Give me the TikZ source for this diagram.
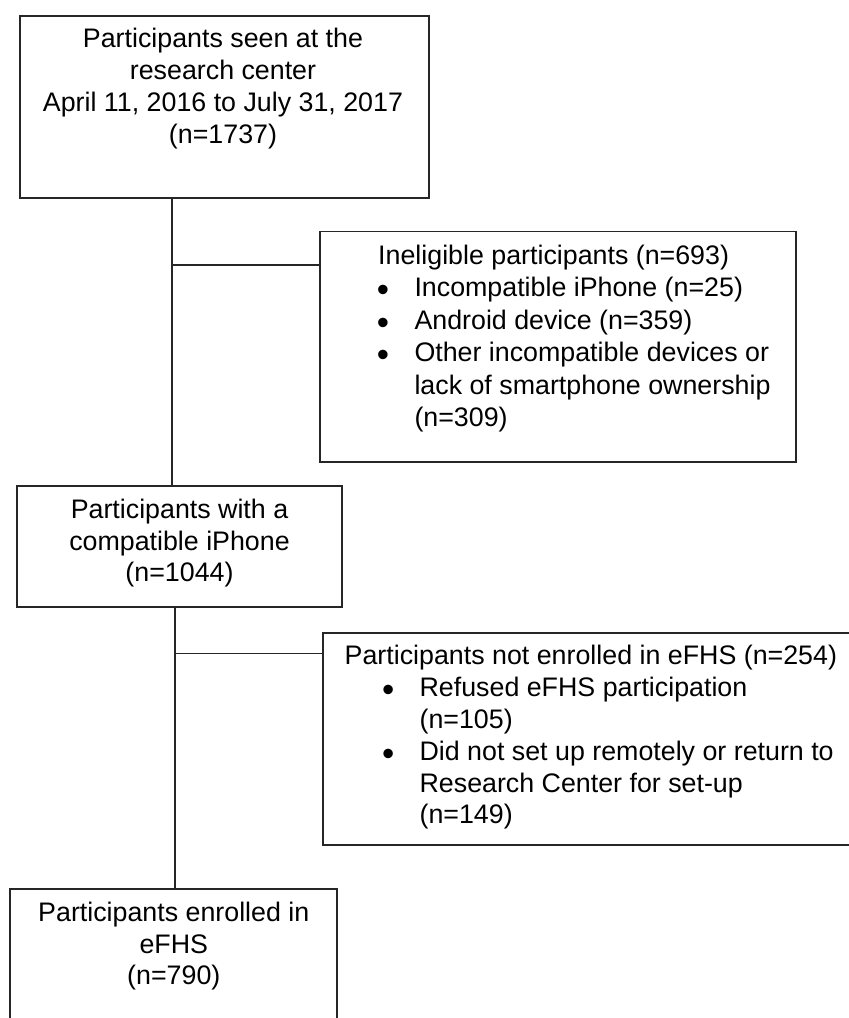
\documentclass[tikz,border=0pt]{standalone}
\usepackage{fontspec}
\setmainfont{Liberation Sans}
\newcommand\bltbox[1]{\makebox[#1][l]{\hspace*{-0.4pt}\smash{\raisebox{-4.9pt}{\scalebox{1.3}{\textbullet}}}}}
\begin{document}
\begin{tikzpicture}[x=1pt,y=-1pt,
  box/.style={draw=black!85, line width=1.9pt, rectangle, inner sep=0pt, outer sep=0pt, anchor=north west},
  conn/.style={draw=black!85, line width=1.7pt},
  ctxt/.style={inner sep=0pt, outer sep=0pt, align=center, anchor=north, text=black,
    font=\fontsize{26.8}{31.8}\selectfont},
  ltxt/.style={inner sep=0pt, outer sep=0pt, align=left, anchor=north west, text=black,
    font=\fontsize{26.8}{#1}\selectfont},
]
\useasboundingbox (0,0) rectangle (849,1018);
\clip (0,0) rectangle (849,1018);

% boxes
\node[box, minimum width=408.4pt, minimum height=182pt] (b1) at (20.3,15.7) {};
\node[box, minimum width=475.7pt, minimum height=230.5pt] (b2) at (320,231.5) {};
\node[box, minimum width=325.3pt, minimum height=121.3pt] (b3) at (17,486) {};
\node[box, minimum width=546.7pt, minimum height=212.3pt] (b4) at (323.3,632.7) {};
\node[box, minimum width=327pt, minimum height=151.3pt] (b5) at (10.3,888.7) {};

% texts
\node[ctxt] (t1) at (223,25.7) {\strut Participants seen at the\\\strut research center\\\strut April 11, 2016 to July 31, 2017\\\strut (n=1737)};
\node[ctxt] (t3) at (179.5,496.0) {\strut Participants with a\\\strut compatible iPhone\\\strut (n=1044)};
\node[ctxt] (t5) at (173.8,899.0) {\strut Participants enrolled in\\\strut eFHS\\\strut (n=790)};

\node[ltxt=32.5] (t2) at (377.3,241.5) {\strut\hspace*{0.9pt}Ineligible participants (n=693)\\
\strut\bltbox{37.2pt}Incompatible iPhone (n=25)\\
\strut\bltbox{37.2pt}Android device (n=359)\\
\strut\bltbox{37.2pt}Other incompatible devices or\\
\strut\hspace*{37.2pt}lack of smartphone ownership\\
\strut\hspace*{37.2pt}(n=309)};

\node[ltxt=31.8] (t4) at (344.7,642.7) {\strut Participants not enrolled in eFHS (n=254)\\
\strut\hspace*{37.9pt}\bltbox{37pt}Refused eFHS participation\\
\strut\hspace*{74.9pt}(n=105)\\
\strut\hspace*{37.9pt}\bltbox{37pt}Did not set up remotely or return to\\
\strut\hspace*{74.9pt}Research Center for set-up\\
\strut\hspace*{74.9pt}(n=149)};

% connectors
\coordinate (j1) at (172.3,265.3);
\coordinate (j2) at (175.3,653.5);
\draw[conn] (j1 |- b1.south) -- (j1 |- b3.north);
\draw[conn] (j1) -- (j1 -| b2.west);
\draw[conn] (j2 |- b3.south) -- (j2 |- b5.north);
\draw[conn] (j2) -- (j2 -| b4.west);
\end{tikzpicture}
\end{document}
